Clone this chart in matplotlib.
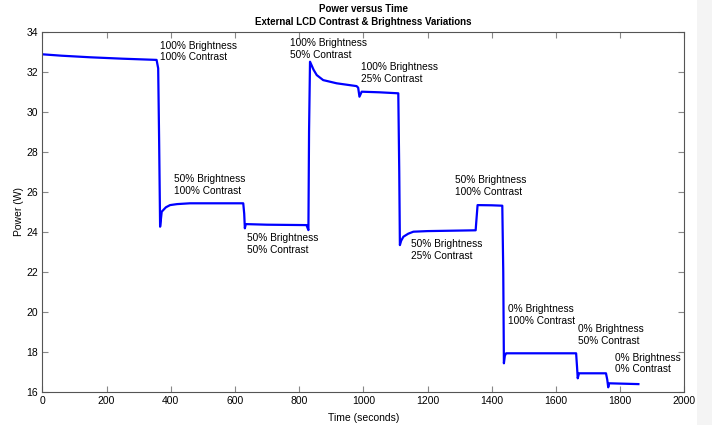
import numpy as np
import matplotlib.pyplot as plt
from matplotlib.patches import Rectangle

plt.rcParams['font.family'] = ['Liberation Sans', 'DejaVu Sans']

# power trace, key points
time_s = [0, 60, 150, 250, 356, 361, 364, 367, 372, 385, 398, 420, 460, 626,
          629, 631, 634, 700, 823, 829, 831, 834, 845, 855, 875, 917, 979, 984,
          988, 995, 1050, 1109, 1112, 1114, 1118, 1125, 1140, 1156, 1200, 1350,
          1352, 1356, 1400, 1433, 1436, 1438, 1441, 1445, 1550, 1663, 1666,
          1668, 1672, 1756, 1760, 1763, 1766, 1857]
power_w = [32.87, 32.8, 32.72, 32.65, 32.59, 32.17, 28.5, 24.25, 25.0, 25.22,
           25.33, 25.38, 25.42, 25.42, 24.9, 24.17, 24.38, 24.35, 24.33, 24.08,
           29.0, 32.5, 32.1, 31.83, 31.58, 31.42, 31.28, 31.2, 30.75, 31.0,
           30.97, 30.92, 27.0, 23.33, 23.55, 23.75, 23.9, 24.0, 24.03, 24.07,
           24.5, 25.33, 25.32, 25.3, 22.0, 17.42, 17.8, 17.92, 17.92, 17.92,
           17.2, 16.67, 16.92, 16.92, 16.6, 16.22, 16.42, 16.38]

# (time, top of text, label)
label_t = [367, 409, 637, 772, 992, 1149, 1286, 1452, 1670, 1784]
label_w = [33.55, 26.87, 23.92, 33.68, 32.47, 23.62, 26.83, 20.38, 19.38, 17.95]
label_txt = ["100% Brightness\n100% Contrast",
             "50% Brightness\n100% Contrast",
             "50% Brightness\n50% Contrast",
             "100% Brightness\n50% Contrast",
             "100% Brightness\n25% Contrast",
             "50% Brightness\n25% Contrast",
             "50% Brightness\n100% Contrast",
             "0% Brightness\n100% Contrast",
             "0% Brightness\n50% Contrast",
             "0% Brightness\n0% Contrast"]

fig = plt.figure(figsize=(7.12, 4.25), dpi=100)
ax = fig.add_axes([42.3 / 712, 1 - 391.7 / 425, (684.3 - 42.3) / 712, (391.7 - 31.7) / 425])

ax.plot(time_s, power_w, color='#0000ff', linewidth=1.6)

for t, w, s in zip(label_t, label_w, label_txt):
    ax.text(t, w, s, ha='left', va='top', fontsize=7.3, linespacing=1.2)

ax.set_xlim(0, 2000)
ax.set_ylim(16, 34)
ax.set_xticks(np.arange(0, 2001, 200))
ax.set_yticks(np.arange(16, 35, 2))
ax.tick_params(direction='in', top=True, right=True, labelsize=7.5,
               length=4, width=0.8, color='#888888', pad=3)
for sp in ax.spines.values():
    sp.set_color('#555555')
    sp.set_linewidth(0.8)

ax.set_xlabel("Time (seconds)", fontsize=7.5, labelpad=5)
ax.set_ylabel("Power (W)", fontsize=7.5, labelpad=2)
ax.set_title("Power versus Time\nExternal LCD Contrast & Brightness Variations",
             fontsize=7, fontweight='bold', linespacing=1.3, pad=5)

# light strip at the right edge of the screenshot
fig.patches.append(Rectangle((697 / 712, 0), 15 / 712, 1, transform=fig.transFigure,
                             facecolor='#f4f4f4', edgecolor='none', zorder=-1))

fig.savefig("out.png", dpi=100)
